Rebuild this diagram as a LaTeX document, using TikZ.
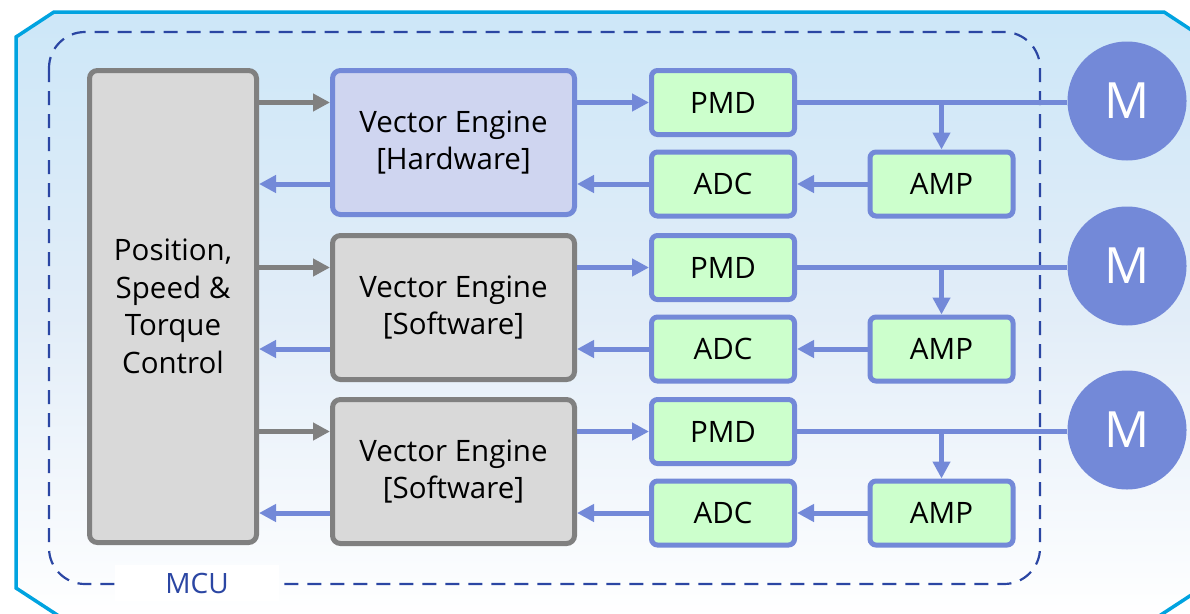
\documentclass[tikz,border=0pt]{standalone}
\usepackage{fontspec}
\setmainfont{Open Sans}
\usetikzlibrary{arrows.meta}
\definecolor{frameblue}{HTML}{00A3E0}
\definecolor{skytop}{HTML}{CDE7F8}
\definecolor{mcublue}{HTML}{2B46A3}
\definecolor{linkblue}{HTML}{7389D8}
\definecolor{boxgray}{HTML}{D9D9D9}
\definecolor{edgegray}{HTML}{808080}
\definecolor{hwfill}{HTML}{CFD5F0}
\definecolor{periph}{HTML}{CCFFCC}
\tikzset{
  txt/.style={font=\fontsize{29.5}{37.5}\selectfont, text=black, align=center},
  swbox/.style={txt, draw=edgegray, fill=boxgray, line width=5pt, rounded corners=8pt,
    minimum width=242pt, minimum height=144pt, inner sep=0pt},
  hwbox/.style={swbox, draw=linkblue, fill=hwfill},
  ctrlbox/.style={swbox, minimum width=167pt, minimum height=472pt},
  pbox/.style={txt, draw=linkblue, fill=periph, line width=5pt, rounded corners=6pt,
    minimum width=143pt, minimum height=64pt, inner sep=0pt},
  motor/.style={circle, fill=linkblue, minimum size=119pt, inner sep=0pt,
    text=white, font=\fontsize{50}{50}\selectfont},
  garrow/.style={draw=edgegray, line width=5pt, -{Triangle[length=17pt,width=17pt]}},
  barrow/.style={draw=linkblue, line width=5pt, -{Triangle[length=17pt,width=17pt]}},
  bline/.style={draw=linkblue, line width=5pt},
}
\begin{document}
\begin{tikzpicture}[x=1pt, y=-1pt]
  \useasboundingbox (0,0) rectangle (1190,613);
  \fill[white] (0,0) rectangle (1190,613);
  % board outline with chamfered corners
  \begin{scope}
    \clip (0,0) rectangle (1190,613);
    \shade[top color=skytop, bottom color=white, middle color={rgb,255:red,226;green,237;blue,248}]
      (16,37) -- (54,12) -- (1164,12) -- (1202,37) -- (1202,588) -- (1153,620)
      -- (65,620) -- (16,588) -- cycle;
    \draw[frameblue, line width=3.5pt, line join=miter]
      (16,37) -- (54,12) -- (1164,12) -- (1202,37) -- (1202,588) -- (1153,620)
      -- (65,620) -- (16,588) -- cycle;
  \end{scope}
  % MCU boundary
  \draw[mcublue, line width=2.2pt, dash pattern=on 14pt off 9pt, rounded corners=36pt]
    (49,32) rectangle (1040,584);
  \node[fill=white, text=mcublue, font=\fontsize{28}{28}\selectfont,
    minimum width=164pt, minimum height=36pt, inner sep=0pt] (mcu) at (197,583) {MCU};

  % controller
  \node[ctrlbox] (ctrl) at (173,306.5) {Position,\\Speed \&\\Torque\\Control};

  % vector engines
  \node[hwbox] (ve1) at (453.5,142.5) {Vector Engine\\{[Hardware]}};
  \node[swbox] (ve2) at (453.5,307.5) {Vector Engine\\{[Software]}};
  \node[swbox] (ve3) at (453.5,471.5) {Vector Engine\\{[Software]}};

  % per-channel peripherals and motors
  \foreach \i/\dy in {1/0, 2/165, 3/329} {
    \node[pbox] (pmd\i) at (723,102.5+\dy) {PMD};
    \node[pbox] (adc\i) at (723,184+\dy) {ADC};
    \node[pbox] (amp\i) at (941.5,184+\dy) {AMP};
    \node[motor] (m\i) at (1127,101+\dy) {M};
  }

  \foreach \i in {1,2,3} {
    \draw[garrow] (ctrl.east |- pmd\i.west) -- (ve\i.west |- pmd\i.west);
    \draw[barrow] (ve\i.west |- adc\i.west) -- (ctrl.east |- adc\i.west);
    \draw[barrow] (ve\i.east |- pmd\i.west) -- (pmd\i.west);
    \draw[barrow] (adc\i.west) -- (ve\i.east |- adc\i.west);
    \draw[barrow] (amp\i.west) -- (adc\i.east);
    \draw[bline] (pmd\i.east) -- (m\i.west |- pmd\i.east);
    \draw[barrow] (amp\i.north |- pmd\i.east) -- (amp\i.north);
  }
\end{tikzpicture}
\end{document}
